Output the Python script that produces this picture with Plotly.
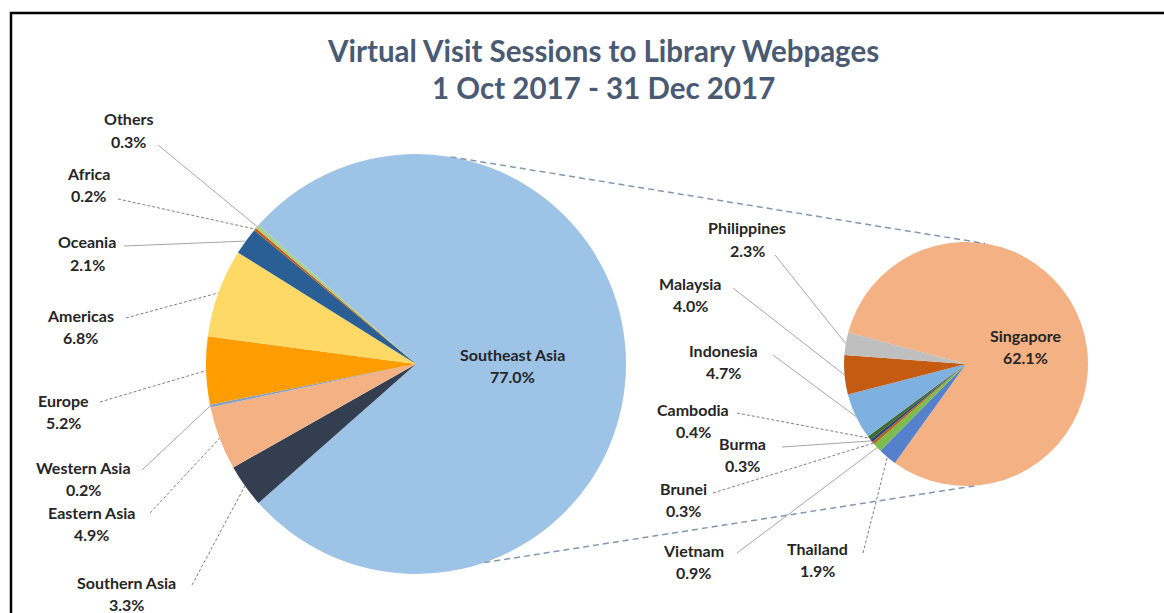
import math
import plotly.graph_objects as go

# ---------------- data ----------------
title_lines = ["Virtual Visit Sessions to Library Webpages", "1 Oct 2017 - 31 Dec 2017"]

regions = ["Southeast Asia", "Southern Asia", "Eastern Asia", "Western Asia", "Europe",
           "Americas", "Oceania", "Africa", "Others"]
region_pct = [77.0, 3.3, 4.9, 0.2, 5.2, 6.8, 2.1, 0.2, 0.3]

countries = ["Singapore", "Thailand", "Vietnam", "Brunei", "Burma", "Cambodia",
             "Indonesia", "Malaysia", "Philippines"]
country_pct = [62.1, 1.9, 0.9, 0.3, 0.3, 0.4, 4.7, 4.0, 2.3]

# ---------------- style / layout ----------------
W, H = 1164, 613
FONT = "Lato"
region_colors = ["#9DC3E6", "#333F50", "#F4B183", "#7F9FC9", "#FF9C00",
                 "#FFD966", "#2A5F95", "#C55A11", "#A9D18E"]
country_colors = ["#F4B183", "#5580CC", "#7CBD4E", "#B5651D", "#264478", "#3F6B2A",
                  "#7FB1E0", "#C55A11", "#BFBFBF"]

MAIN = dict(cx=416, cy=364, r=210)
SUB = dict(cx=966, cy=364, r=122)
main_rotation = 90 - region_pct[0] / sum(region_pct) * 360 / 2
sub_rotation = -75

# label placement: (x center, y of name line, leader start x, leader start y, dash)
main_labels = {
    "Others": (128, 119, 158, 145, "solid"),
    "Africa": (88, 173, 118, 199, "dash"),
    "Oceania": (87, 242, 124, 246, "solid"),
    "Americas": (80, 315, 126, 318, "dash"),
    "Europe": (63, 400, 100, 402, "dash"),
    "Western Asia": (84, 467, 142, 470, "solid"),
    "Eastern Asia": (91, 512, 150, 513, "dash"),
    "Southern Asia": (126, 582, 192, 585, "dash"),
}
sub_labels = {
    "Philippines": (747, 228, 775, 255, "solid"),
    "Malaysia": (690, 283, 733, 288, "solid"),
    "Indonesia": (723, 350, 773, 355, "solid"),
    "Cambodia": (693, 409, 737, 413, "dash"),
    "Burma": (742, 443, 782, 447, "solid"),
    "Brunei": (683, 488, 713, 493, "dash"),
    "Vietnam": (693, 550, 737, 553, "solid"),
    "Thailand": (818, 548, 863, 553, "dash"),
}
inside_labels = {"Southeast Asia": (512, 354), "Singapore": (1025, 335)}
LINE_GAP = 22


def px(x):
    return x / W


def py(y):
    return 1 - y / H


def domain(p):
    return dict(x=[px(p["cx"] - p["r"]), px(p["cx"] + p["r"])],
                y=[py(p["cy"] + p["r"]), py(p["cy"] - p["r"])])


def mid_points(values, rotation, p):
    """edge point (pixel) at the middle angle of each slice, clockwise from rotation"""
    tot = sum(values)
    a = rotation
    pts = []
    for v in values:
        span = v / tot * 360
        m = math.radians(a + span / 2)
        pts.append((p["cx"] + p["r"] * math.sin(m), p["cy"] - p["r"] * math.cos(m)))
        a += span
    return pts


fig = go.Figure()
fig.add_trace(go.Pie(labels=regions, values=region_pct, sort=False, direction="clockwise",
                     rotation=main_rotation, marker=dict(colors=region_colors, line=dict(width=0)),
                     textinfo="none", domain=domain(MAIN), showlegend=False,
                     hovertemplate="%{label}: %{value}%<extra></extra>"))
fig.add_trace(go.Pie(labels=countries, values=country_pct, sort=False, direction="clockwise",
                     rotation=sub_rotation, marker=dict(colors=country_colors, line=dict(width=0)),
                     textinfo="none", domain=domain(SUB), showlegend=False,
                     hovertemplate="%{label}: %{value}%<extra></extra>"))

shapes = []
annotations = []

# frame
shapes.append(dict(type="rect", xref="paper", yref="paper", x0=px(11), x1=px(1172),
                   y0=py(625), y1=py(13), line=dict(color="black", width=2.5), layer="above"))


# connector lines between the pies
def on_circle(p, ang):
    a = math.radians(ang)
    return (p["cx"] + p["r"] * math.sin(a), p["cy"] - p["r"] * math.cos(a))


for a_main, a_sub in [(9.5, 9.0), (161.0, 175.0)]:
    x0, y0 = on_circle(MAIN, a_main)
    x1, y1 = on_circle(SUB, a_sub)
    shapes.append(dict(type="line", xref="paper", yref="paper", x0=px(x0), y0=py(y0),
                       x1=px(x1), y1=py(y1), line=dict(color="#8497B0", width=1.5, dash="6px,4px")))


def add_labels(names, values, rotation, p, placement):
    pts = mid_points(values, rotation, p)
    for name, v, (ex, ey) in zip(names, values, pts):
        if name in placement:
            x, y, sx, sy, dash = placement[name]
            col = "#A6A6A6" if dash == "solid" else "#7F7F7F"
            shapes.append(dict(type="line", xref="paper", yref="paper", x0=px(sx), y0=py(sy),
                               x1=px(ex), y1=py(ey),
                               line=dict(color=col, width=1, dash="solid" if dash == "solid" else "3px,2px")))
        elif name in inside_labels:
            x, y = inside_labels[name]
        else:
            continue
        for i, t in enumerate([name, f"{v:.1f}%"]):
            annotations.append(dict(text=t, x=px(x), y=py(y + i * LINE_GAP), xref="paper", yref="paper",
                                    showarrow=False, xanchor="center", yanchor="middle",
                                    font=dict(family=FONT, size=16, color="#262626", weight="bold")))


add_labels(regions, region_pct, main_rotation, MAIN, main_labels)
add_labels(countries, country_pct, sub_rotation, SUB, sub_labels)

for i, (t, y) in enumerate(zip(title_lines, [51, 87])):
    annotations.append(dict(text=t, x=px(603), y=py(y), xref="paper", yref="paper", showarrow=False,
                            xanchor="center", yanchor="middle",
                            font=dict(family=FONT, size=29.5, color="#4A5A72", weight="bold")))

fig.update_layout(width=W, height=H, margin=dict(l=0, r=0, t=0, b=0), paper_bgcolor="white",
                  plot_bgcolor="white", shapes=shapes, annotations=annotations)

fig.write_html("out.html", config={"displayModeBar": False},
               post_script="document.body.style.margin='0';")
